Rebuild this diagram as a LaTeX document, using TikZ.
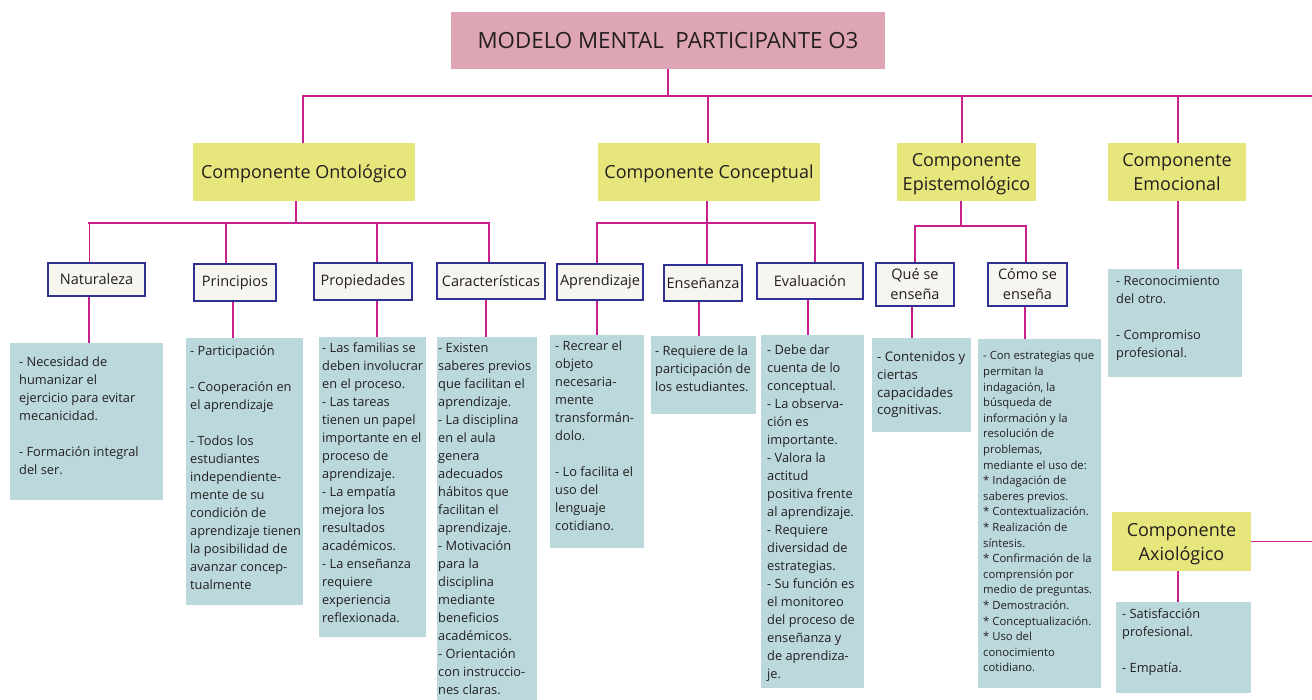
\documentclass[tikz,border=0pt]{standalone}
\usepackage{fontspec}
\setmainfont{Open Sans}
\usetikzlibrary{positioning}
\definecolor{titlepink}{HTML}{DEA5B4}
\definecolor{compyellow}{HTML}{E6E67C}
\definecolor{subfill}{HTML}{F6F5F0}
\definecolor{subblue}{HTML}{2E3192}
\definecolor{noteblue}{HTML}{BBD9DD}
\definecolor{linkmag}{HTML}{C7208C}
\definecolor{inkdark}{HTML}{231F20}
\tikzset{
  link/.style={draw=linkmag, line width=1.8pt},
  bus/.style={draw=linkmag, line width=2.4pt, line cap=rect},
  titlebox/.style={fill=titlepink, minimum width=434, minimum height=57, inner sep=0pt,
    text=inkdark, font=\fontsize{22.3}{26}\selectfont},
  compbox/.style={fill=compyellow, minimum height=58, inner sep=0pt, align=center,
    text depth=0pt, text=inkdark, font=\fontsize{18}{24}\selectfont},
  subbox/.style={draw=subblue, line width=2pt, fill=subfill, inner sep=0pt, align=center,
    text=inkdark, font=\fontsize{14.5}{20}\selectfont},
  notebox/.style={fill=noteblue, anchor=north west, inner sep=0pt},
  notetext/.style={anchor=north west, inner sep=0pt, align=left, text=inkdark,
    font=\fontsize{12.8}{18}\selectfont},
}
\begin{document}
\begin{tikzpicture}[x=1pt, y=-1pt]
  \useasboundingbox (0,0) rectangle (1312,700);
  % Title
  \node[titlebox] (title) at (668,40.5) {MODELO MENTAL~~PARTICIPANTE O3};
  % Components
  \node[compbox, minimum width=222] (ont) at (304,172) {Componente Ontológico};
  \node[compbox, minimum width=222] (con) at (709,172) {Componente Conceptual};
  \node[compbox, minimum width=139] (epi) at (966.5,172) {Componente\\Epistemológico};
  \node[compbox, minimum width=138] (emo) at (1177,172) {Componente\\Emocional};
  \node[compbox, minimum width=139, minimum height=59] (axi) at (1181.5,541.5) {Componente\\Axiológico};
  % Main bus
  \coordinate (mainbus) at (0,96);
  \coordinate (busend) at (1312,96);
  \draw[link] (title) -- (title |- mainbus);
  \draw[bus] ([xshift=-1]ont.north |- mainbus) -- (busend);
  \foreach \n/\dx in {ont/-1, con/-1, epi/-4.5, emo/1}
    \draw[link] ([xshift=\dx]\n.north |- mainbus) -- ([xshift=\dx]\n.north);
  \draw[link] (axi.east) -- (axi.east -| busend);
  % Sub-categories
  \node[subbox, minimum width=97, minimum height=33] (nat) at (96.5,279.5) {Naturaleza};
  \node[subbox, minimum width=82, minimum height=37] (pri) at (235,282.5) {Principios};
  \node[subbox, minimum width=98, minimum height=37] (pro) at (363,281.5) {Propiedades};
  \node[subbox, minimum width=108, minimum height=36] (car) at (491,281) {Características};
  \node[subbox, minimum width=86, minimum height=36] (apr) at (600,282) {Aprendizaje};
  \node[subbox, minimum width=78, minimum height=36] (ens) at (703,283) {Enseñanza};
  \node[subbox, minimum width=106, minimum height=36] (eva) at (810,281) {Evaluación};
  \node[subbox, minimum width=78, minimum height=43] (que) at (915,284.5) {Qué se\\enseña};
  \node[subbox, minimum width=79, minimum height=43] (como) at (1027.5,284.5) {Cómo se\\enseña};
  % Ontologico branch
  \coordinate (ontbus) at (0,223);
  \draw[link] ([xshift=-8]ont.south) -- ([xshift=-8]ont.south |- ontbus);
  \draw[bus] ([xshift=-7]nat.north |- ontbus) -- ([xshift=-2]car.north |- ontbus);
  \foreach \n/\dx in {nat/-7, pri/-9, pro/14, car/-2}
    \draw[link] ([xshift=\dx]\n.north |- ontbus) -- ([xshift=\dx]\n.north);
  % Conceptual branch
  \coordinate (conbus) at (0,223);
  \draw[link] ([xshift=-2]con.south) -- ([xshift=-2]con.south |- conbus);
  \draw[bus] ([xshift=-3]apr.north |- conbus) -- ([xshift=5]eva.north |- conbus);
  \foreach \n/\dx in {apr/-3, ens/4, eva/5}
    \draw[link] ([xshift=\dx]\n.north |- conbus) -- ([xshift=\dx]\n.north);
  % Epistemologico branch
  \coordinate (epibus) at (0,226);
  \draw[link] ([xshift=-5.5]epi.south) -- ([xshift=-5.5]epi.south |- epibus);
  \draw[bus] (que.north |- epibus) -- ([xshift=-1.5]como.north |- epibus);
  \foreach \n/\dx in {que/0, como/-1.5}
    \draw[link] ([xshift=\dx]\n.north |- epibus) -- ([xshift=\dx]\n.north);
  % Note boxes
  \node[notebox, minimum width=153, minimum height=157] (natbox) at (10,343) {};
  \node[notebox, minimum width=117, minimum height=267] (pribox) at (186,338) {};
  \node[notebox, minimum width=107, minimum height=300] (probox) at (319,337) {};
  \node[notebox, minimum width=100, minimum height=363] (carbox) at (437,337) {};
  \node[notebox, minimum width=94, minimum height=213] (aprbox) at (550,335) {};
  \node[notebox, minimum width=105, minimum height=78] (ensbox) at (651,336) {};
  \node[notebox, minimum width=103, minimum height=353] (evabox) at (761,335) {};
  \node[notebox, minimum width=99, minimum height=94] (quebox) at (872,338) {};
  \node[notebox, minimum width=123, minimum height=349] (comobox) at (978,339) {};
  \node[notebox, minimum width=134, minimum height=108] (emobox) at (1108,269) {};
  \node[notebox, minimum width=135, minimum height=91] (axibox) at (1116,602) {};
  % Links to note boxes
  \foreach \n/\dx in {nat/-7.5, pri/-2, pro/14, car/-5, apr/-3, ens/-4, eva/-2, que/-3, como/-2.5, emo/1, axi/-3.5}
    \draw[link] ([xshift=\dx]\n.south) -- ([xshift=\dx]\n.south |- \n box.north);
  % Note texts
  \node[notetext] (nattxt) at ([xshift=9, yshift=-13.5]natbox.north west)
    {- Necesidad de\\humanizar el\\ejercicio para evitar\\mecanicidad.\\[18pt]- Formación integral\\del ser.};
  \node[notetext] (pritxt) at ([xshift=4, yshift=-7.5]pribox.north west)
    {- Participación\\[18pt]- Cooperación en\\el aprendizaje\\[18pt]- Todos los\\estudiantes\\independiente-\\mente de su\\condición de\\aprendizaje tienen\\la posibilidad de\\avanzar concep-\\tualmente};
  \node[notetext] (protxt) at ([xshift=3, yshift=-5.5]probox.north west)
    {- Las familias se\\deben involucrar\\en el proceso.\\- Las tareas\\tienen un papel\\importante en el\\proceso de\\aprendizaje.\\- La empatía\\mejora los\\resultados\\académicos.\\- La enseñanza\\requiere\\experiencia\\reflexionada.};
  \node[notetext] (cartxt) at ([xshift=1, yshift=-5.5]carbox.north west)
    {- Existen\\saberes previos\\que facilitan el\\aprendizaje.\\- La disciplina\\en el aula\\genera\\adecuados\\hábitos que\\facilitan el\\aprendizaje.\\- Motivación\\para la\\disciplina\\mediante\\beneficios\\académicos.\\- Orientación\\con instruccio-\\nes claras.};
  \node[notetext] (aprtxt) at ([xshift=5, yshift=-5.5]aprbox.north west)
    {- Recrear el\\objeto\\necesaria-\\mente\\transformán-\\dolo.\\[18pt]- Lo facilita el\\uso del\\lenguaje\\cotidiano.};
  \node[notetext] (enstxt) at ([xshift=4, yshift=-9.5]ensbox.north west)
    {- Requiere de la\\participación de\\los estudiantes.};
  \node[notetext] (evatxt) at ([xshift=6, yshift=-9.5]evabox.north west)
    {- Debe dar\\cuenta de lo\\conceptual.\\- La observa-\\ción es\\importante.\\- Valora la\\actitud\\positiva frente\\al aprendizaje.\\- Requiere\\diversidad de\\estrategias.\\- Su función es\\el monitoreo\\del proceso de\\enseñanza y\\de aprendiza-\\je.};
  \node[notetext, font=\fontsize{13.2}{17.7}\selectfont] (quetxt) at ([xshift=5, yshift=-13.5]quebox.north west)
    {- Contenidos y\\ciertas\\capacidades\\cognitivas.};
  \node[notetext, font=\fontsize{11.3}{15.6}\selectfont] (comotxt) at ([xshift=5, yshift=-12.5]comobox.north west)
    {- Con estrategias que\\permitan la\\indagación, la\\búsqueda de\\información y la\\resolución de\\problemas,\\mediante el uso de:\\{}* Indagación de\\saberes previos.\\{}* Contextualización.\\{}* Realización de\\síntesis.\\{}* Confirmación de la\\comprensión por\\medio de preguntas.\\{}* Demostración.\\{}* Conceptualización.\\{}* Uso del\\conocimiento\\cotidiano.};
  \node[notetext] (emotxt) at ([xshift=8, yshift=-6.5]emobox.north west)
    {- Reconocimiento\\del otro.\\[18pt]- Compromiso\\profesional.};
  \node[notetext] (axitxt) at ([xshift=6, yshift=-6.5]axibox.north west)
    {- Satisfacción\\profesional.\\[18pt]- Empatía.};
\end{tikzpicture}
\end{document}
